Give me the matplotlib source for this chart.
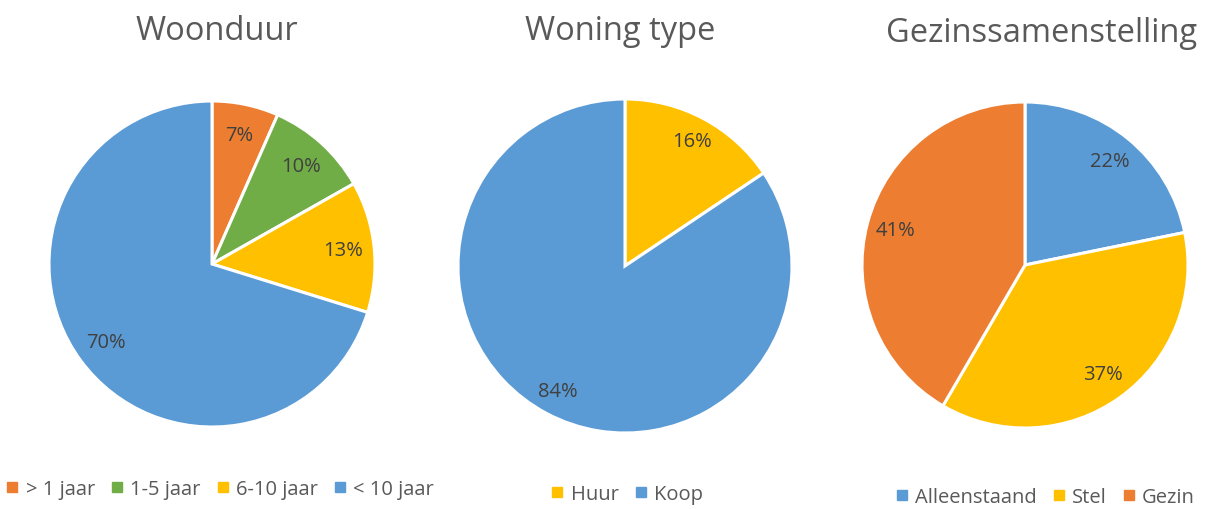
import matplotlib
matplotlib.use("Agg")
import matplotlib.pyplot as plt
from matplotlib.lines import Line2D
import numpy as np

plt.rcParams['font.family'] = ['Open Sans', 'DejaVu Sans']

# Data
woonduur_labels = ['> 1 jaar', '1-5 jaar', '6-10 jaar', '< 10 jaar']
woonduur_values = [6.6, 10.2, 13.0, 70.2]
woonduur_pct = ['7%', '10%', '13%', '70%']

woning_labels = ['Huur', 'Koop']
woning_values = [15.6, 84.4]
woning_pct = ['16%', '84%']

gezin_labels = ['Alleenstaand', 'Stel', 'Gezin']
gezin_values = [21.8, 36.6, 41.6]
gezin_pct = ['22%', '37%', '41%']

BLUE = '#5B9BD5'
ORANGE = '#ED7D31'
YELLOW = '#FFC000'
GREEN = '#70AD47'
TXT = '#404040'
TITLE = '#595959'

W, H = 1214, 510
fig = plt.figure(figsize=(W / 100, H / 100), dpi=100)

def add_pie(cx, cy, r, values, colors, pcts, pctdist):
    ax = fig.add_axes([(cx - r) / W, 1 - (cy + r) / H, 2 * r / W, 2 * r / H])
    ax.pie(values, colors=colors, startangle=90, counterclock=False,
           wedgeprops=dict(edgecolor='white', linewidth=2.2))
    total = sum(values)
    cum = 0
    for v, p in zip(values, pcts):
        mid = (cum + v / 2) / total * 360
        ang = np.deg2rad(90 - mid)
        ax.text(pctdist * np.cos(ang), pctdist * np.sin(ang), p, ha='center', va='center',
                fontsize=14.5, color=TXT)
        cum += v
    ax.set_xlim(-1, 1)
    ax.set_ylim(-1, 1)
    ax.set_aspect('equal')
    ax.axis('off')
    return ax

add_pie(212, 265, 163, woonduur_values, [ORANGE, GREEN, YELLOW, BLUE], woonduur_pct, 0.81)
add_pie(625, 267, 167, woning_values, [YELLOW, BLUE], woning_pct, 0.85)
add_pie(1025, 266, 163, gezin_values, [BLUE, YELLOW, ORANGE], gezin_pct, 0.82)

fig.text(217 / W, 1 - 31 / H, 'Woonduur', ha='center', va='center', fontsize=23.5, color=TITLE)
fig.text(620 / W, 1 - 31 / H, 'Woning type', ha='center', va='center', fontsize=23.5, color=TITLE)
fig.text(1042 / W, 1 - 33 / H, 'Gezinssamenstelling', ha='center', va='center', fontsize=23.5, color=TITLE)

def add_legend(labels, colors, x, y):
    handles = [Line2D([], [], marker='s', linestyle='none', markersize=6.5,
                      markerfacecolor=c, markeredgecolor=c) for c in colors]
    fig.legend(handles, labels, loc='center', bbox_to_anchor=(x / W, 1 - y / H),
               ncol=len(labels), frameon=False, fontsize=14.5, labelcolor=TITLE,
               handlelength=0.6, handletextpad=0.35, columnspacing=0.8,
               borderpad=0.0)

add_legend(woonduur_labels, [ORANGE, GREEN, YELLOW, BLUE], 220, 490)
add_legend(woning_labels, [YELLOW, BLUE], 627, 495)
add_legend(gezin_labels, [BLUE, YELLOW, ORANGE], 1045, 498)

fig.savefig('out.png', dpi=100)
